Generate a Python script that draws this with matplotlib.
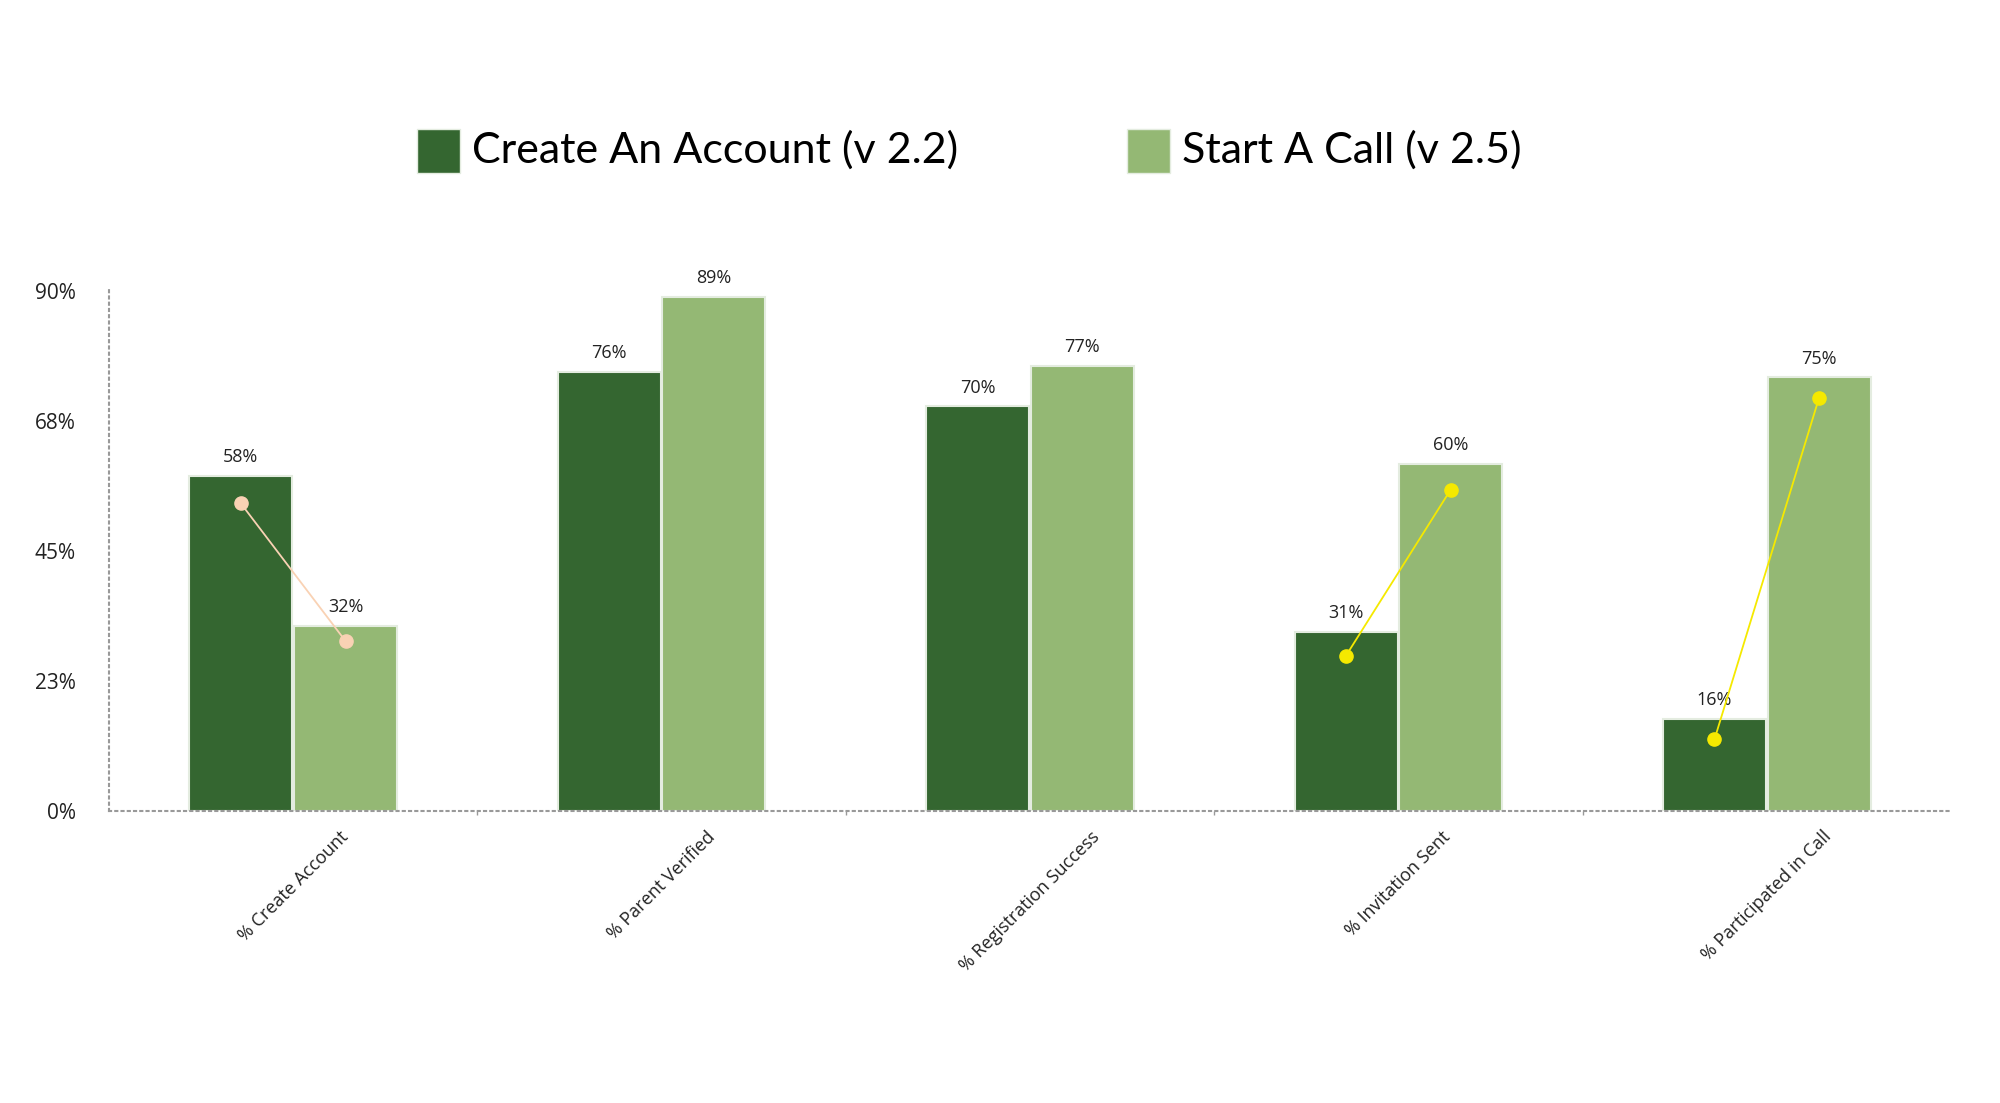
import matplotlib.pyplot as plt
from matplotlib.patches import Rectangle
import numpy as np

categories = ['% Create Account', '% Parent Verified', '% Registration Success',
              '% Invitation Sent', '% Participated in Call']
account_v22 = [58, 76, 70, 31, 16]
call_v25 = [32, 89, 77, 60, 75]
series_names = ['Create An Account (v 2.2)', 'Start A Call (v 2.5)']

# overlay lines (group index, start value, end value, colour)
line_groups = [0, 3, 4]
line_start = [53.2, 26.9, 12.4]
line_end = [29.4, 55.6, 71.5]
line_colors = ['#f9d2b4', '#f5e900', '#f5e900']

yticks = [0, 22.5, 45, 67.5, 90]
ytick_labels = ['0%', '23%', '45%', '68%', '90%']

dark = '#346630'
light = '#94b874'
edge = '#e4ece0'

plt.rcParams['font.family'] = ['Open Sans', 'DejaVu Sans']

fig = plt.figure(figsize=(20, 11.03), dpi=100)
ax = fig.add_axes([0.0545, 0.2647, 0.9210, 0.4733])

x = np.arange(len(categories))
w = 0.28
off = 0.142
b1 = ax.bar(x - off, account_v22, w, color=dark, edgecolor=edge, linewidth=1.5, zorder=2)
b2 = ax.bar(x + off, call_v25, w, color=light, edgecolor=edge, linewidth=1.5, zorder=2)

for bars, vals in [(b1, account_v22), (b2, call_v25)]:
    for r, v in zip(bars, vals):
        ax.annotate('%d%%' % v, (r.get_x() + r.get_width() / 2, v),
                    xytext=(0, 7), textcoords='offset points',
                    ha='center', va='bottom', fontsize=13, color='#222222')

for g, s, e, c in zip(line_groups, line_start, line_end, line_colors):
    ax.plot([g - off, g + off], [s, e], color=c, lw=1.3, marker='o', ms=9.5, zorder=3)

ax.set_xlim(-0.5, len(categories) - 0.5)
ax.set_ylim(0, 90.3)
ax.set_yticks(yticks)
ax.set_yticklabels(ytick_labels, fontsize=15, color='#222222')
ax.tick_params(axis='y', length=0, pad=24)
ax.set_xticks(x)
ax.set_xticklabels(categories, rotation=45, ha='center', va='top', fontsize=13, color='#222222')
ax.tick_params(axis='x', length=0, pad=12)
ax.set_xticks(np.arange(0.5, len(categories) - 0.5), minor=True)
ax.tick_params(axis='x', which='minor', length=3, color='#999999', width=1)

for side in ['top', 'right']:
    ax.spines[side].set_visible(False)
for side in ['left', 'bottom']:
    ax.spines[side].set_color('#999999')
    ax.spines[side].set_linestyle((0, (1, 2)))
    ax.spines[side].set_linewidth(1.5)

# legend drawn by hand at the top
W, H = 2000, 1103
leg_x = [417, 1127]
for lx, col, name in zip(leg_x, [dark, light], series_names):
    fig.add_artist(Rectangle((lx / W, 1 - 173 / H), 43 / W, 44 / H, transform=fig.transFigure,
                             facecolor=col, edgecolor=edge, linewidth=1))
    fig.text((lx + 55) / W, 1 - 150 / H, name, fontsize=31, va='center', ha='left',
             color='#000000', family=['Lato', 'Open Sans', 'DejaVu Sans'])

fig.savefig('out.png', dpi=100, facecolor='white')
